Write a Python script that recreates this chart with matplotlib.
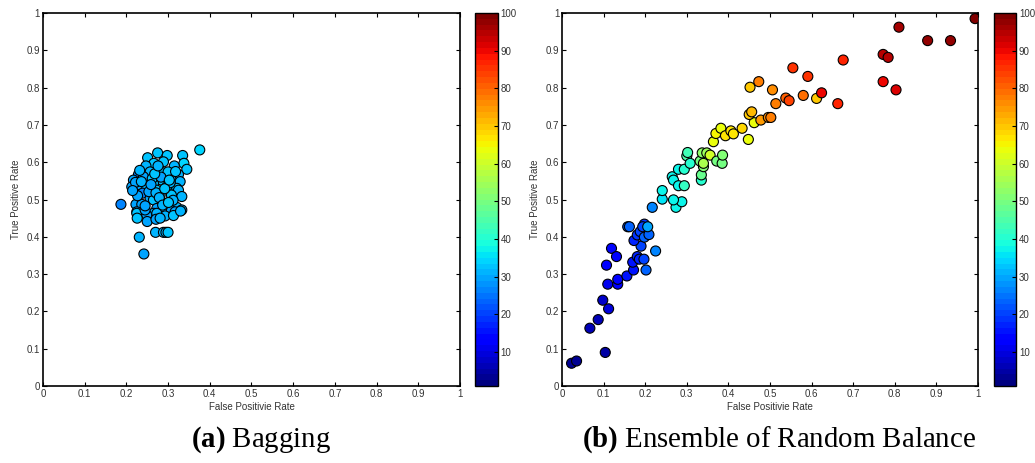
import numpy as np
import matplotlib
matplotlib.use("Agg")
import matplotlib.pyplot as plt

plt.rcParams['font.family'] = ['Liberation Sans', 'DejaVu Sans']
plt.rcParams['mathtext.fontset'] = 'custom'
plt.rcParams['mathtext.rm'] = 'Liberation Serif'
plt.rcParams['mathtext.bf'] = 'Liberation Serif:bold'

# (a) Bagging: false positive rate, true positive rate, colour value
bag_fpr = [0.376, 0.275, 0.298, 0.335, 0.251, 0.338, 0.345, 0.266, 0.289, 0.315,
           0.247, 0.279, 0.300, 0.325, 0.229, 0.257, 0.241, 0.285, 0.308, 0.217,
           0.329, 0.265, 0.233, 0.297, 0.321, 0.213, 0.249, 0.273, 0.325, 0.239,
           0.281, 0.308, 0.333, 0.257, 0.265, 0.187, 0.223, 0.237, 0.297, 0.321,
           0.333, 0.273, 0.289, 0.225, 0.308, 0.265, 0.249, 0.293, 0.317, 0.225,
           0.226, 0.245, 0.250, 0.273, 0.271, 0.281, 0.313, 0.330, 0.270, 0.289,
           0.295, 0.300, 0.231, 0.242, 0.222, 0.236, 0.262, 0.283, 0.305, 0.318,
           0.254, 0.271, 0.292, 0.312, 0.227, 0.259, 0.279, 0.303, 0.245, 0.287,
           0.268, 0.215, 0.232, 0.301, 0.276]
bag_tpr = [0.633, 0.625, 0.618, 0.618, 0.612, 0.597, 0.581, 0.597, 0.601, 0.590,
           0.590, 0.581, 0.574, 0.567, 0.567, 0.574, 0.561, 0.552, 0.552, 0.552,
           0.548, 0.543, 0.539, 0.534, 0.530, 0.534, 0.530, 0.525, 0.525, 0.517,
           0.512, 0.512, 0.508, 0.503, 0.499, 0.487, 0.487, 0.487, 0.490, 0.479,
           0.472, 0.476, 0.472, 0.467, 0.470, 0.463, 0.458, 0.456, 0.467, 0.463,
           0.450, 0.472, 0.441, 0.463, 0.447, 0.450, 0.457, 0.469, 0.412, 0.412,
           0.412, 0.412, 0.399, 0.354, 0.546, 0.548, 0.556, 0.560, 0.545, 0.575,
           0.521, 0.518, 0.529, 0.498, 0.510, 0.540, 0.505, 0.552, 0.483, 0.485,
           0.569, 0.524, 0.578, 0.492, 0.590]
bag_val = [34, 33, 33, 33, 32, 34, 33, 32, 33, 31,
           31, 32, 33, 31, 26, 31, 30, 32, 31, 30,
           31, 32, 30, 33, 32, 30, 31, 32, 31, 27,
           31, 32, 31, 30, 33, 27, 30, 29, 32, 31,
           31, 30, 31, 29, 30, 31, 29, 31, 30, 33,
           33, 30, 29, 31, 30, 31, 32, 31, 31, 31,
           31, 32, 31, 29, 30, 31, 32, 30, 31, 33,
           30, 31, 32, 31, 29, 30, 31, 32, 30, 31,
           32, 30, 31, 32, 31]

# (b) Ensemble of Random Balance
erb_fpr = [0.023, 0.035, 0.104, 0.067, 0.087, 0.098, 0.112, 0.110, 0.134, 0.134,
           0.107, 0.119, 0.131, 0.156, 0.158, 0.162, 0.172, 0.170, 0.181, 0.186,
           0.197, 0.202, 0.225, 0.190, 0.173, 0.181, 0.188, 0.198, 0.209, 0.198,
           0.194, 0.206, 0.217, 0.241, 0.274, 0.288, 0.268, 0.241, 0.265, 0.268,
           0.280, 0.294, 0.280, 0.294, 0.300, 0.302, 0.308, 0.332, 0.335, 0.335,
           0.340, 0.340, 0.337, 0.348, 0.356, 0.372, 0.385, 0.386, 0.364, 0.370,
           0.382, 0.393, 0.406, 0.412, 0.433, 0.448, 0.462, 0.450, 0.456, 0.478,
           0.496, 0.502, 0.514, 0.452, 0.473, 0.506, 0.538, 0.546, 0.555, 0.580,
           0.591, 0.612, 0.624, 0.663, 0.676, 0.772, 0.784, 0.772, 0.803, 0.810,
           0.879, 0.934, 0.993]
erb_tpr = [0.061, 0.067, 0.090, 0.155, 0.178, 0.230, 0.207, 0.273, 0.273, 0.286,
           0.324, 0.369, 0.347, 0.295, 0.427, 0.427, 0.311, 0.332, 0.347, 0.340,
           0.340, 0.311, 0.362, 0.375, 0.390, 0.405, 0.414, 0.399, 0.406, 0.434,
           0.427, 0.427, 0.479, 0.501, 0.479, 0.494, 0.499, 0.524, 0.561, 0.552,
           0.581, 0.581, 0.537, 0.537, 0.617, 0.626, 0.597, 0.603, 0.552, 0.566,
           0.588, 0.597, 0.625, 0.625, 0.619, 0.603, 0.597, 0.619, 0.655, 0.677,
           0.691, 0.671, 0.684, 0.676, 0.691, 0.661, 0.706, 0.728, 0.735, 0.713,
           0.720, 0.720, 0.757, 0.801, 0.816, 0.794, 0.772, 0.765, 0.853, 0.779,
           0.830, 0.771, 0.786, 0.757, 0.874, 0.889, 0.881, 0.816, 0.794, 0.962,
           0.926, 0.926, 0.985]
erb_val = [3, 3, 5, 6, 7, 8, 9, 11, 12, 12,
           13, 14, 14, 15, 22, 23, 16, 16, 17, 17,
           20, 24, 26, 20, 18, 19, 20, 24, 23, 19,
           21, 30, 27, 36, 38, 37, 37, 37, 38, 37,
           38, 41, 38, 42, 45, 44, 41, 50, 40, 48,
           52, 56, 53, 55, 60, 50, 49, 52, 64, 65,
           63, 66, 67, 66, 68, 63, 64, 70, 71, 74,
           76, 77, 77, 70, 77, 76, 80, 83, 86, 79,
           85, 70, 90, 87, 87, 95, 95, 90, 91, 96,
           97, 98, 100]

fig = plt.figure(figsize=(10.35, 4.63), dpi=100)
cmap = plt.get_cmap('jet', 64)
ticks = np.arange(0, 1.01, 0.1)
ticklabels = ['0'] + ['%.1f' % t for t in ticks[1:-1]] + ['1']

panels = [
    (bag_fpr, bag_tpr, bag_val, [0.0415, 0.1663, 0.4029, 0.8056], [0.4589, 0.1663, 0.0222, 0.8056],
     0.252, r'$\mathbf{(a)}$ Bagging'),
    (erb_fpr, erb_tpr, erb_val, [0.543, 0.1663, 0.4019, 0.8056], [0.9604, 0.1663, 0.0213, 0.8056],
     0.753, r'$\mathbf{(b)}$ Ensemble of Random Balance'),
]

for fpr, tpr, val, rect, crect, cx, caption in panels:
    ax = fig.add_axes(rect)
    sc = ax.scatter(fpr, tpr, c=val, cmap=cmap, vmin=1, vmax=100, s=52,
                    edgecolors='black', linewidths=0.8, zorder=3)
    ax.set_xlim(0, 1)
    ax.set_ylim(0, 1)
    ax.set_xticks(ticks)
    ax.set_yticks(ticks)
    ax.set_xticklabels(ticklabels)
    ax.set_yticklabels(ticklabels)
    ax.tick_params(direction='in', top=True, right=True, length=3, width=0.8,
                   labelsize=7, labelcolor='#333333', pad=2)
    for s in ax.spines.values():
        s.set_linewidth(1.2)
    ax.set_xlabel('False Positivie Rate', fontsize=7, color='#333333', labelpad=2)
    ax.set_ylabel('True Positive Rate', fontsize=7, color='#333333', labelpad=4)

    cax = fig.add_axes(crect)
    cb = fig.colorbar(sc, cax=cax, ticks=np.arange(10, 101, 10))
    cb.outline.set_linewidth(1.0)
    cax.tick_params(direction='in', length=3, width=0.8, labelsize=7,
                    labelcolor='#333333', pad=2)

    fig.text(cx, 0.05, caption, ha='center', va='center', fontsize=20.8,
             family=['Liberation Serif', 'DejaVu Serif'])

fig.savefig('out.png', dpi=100)
